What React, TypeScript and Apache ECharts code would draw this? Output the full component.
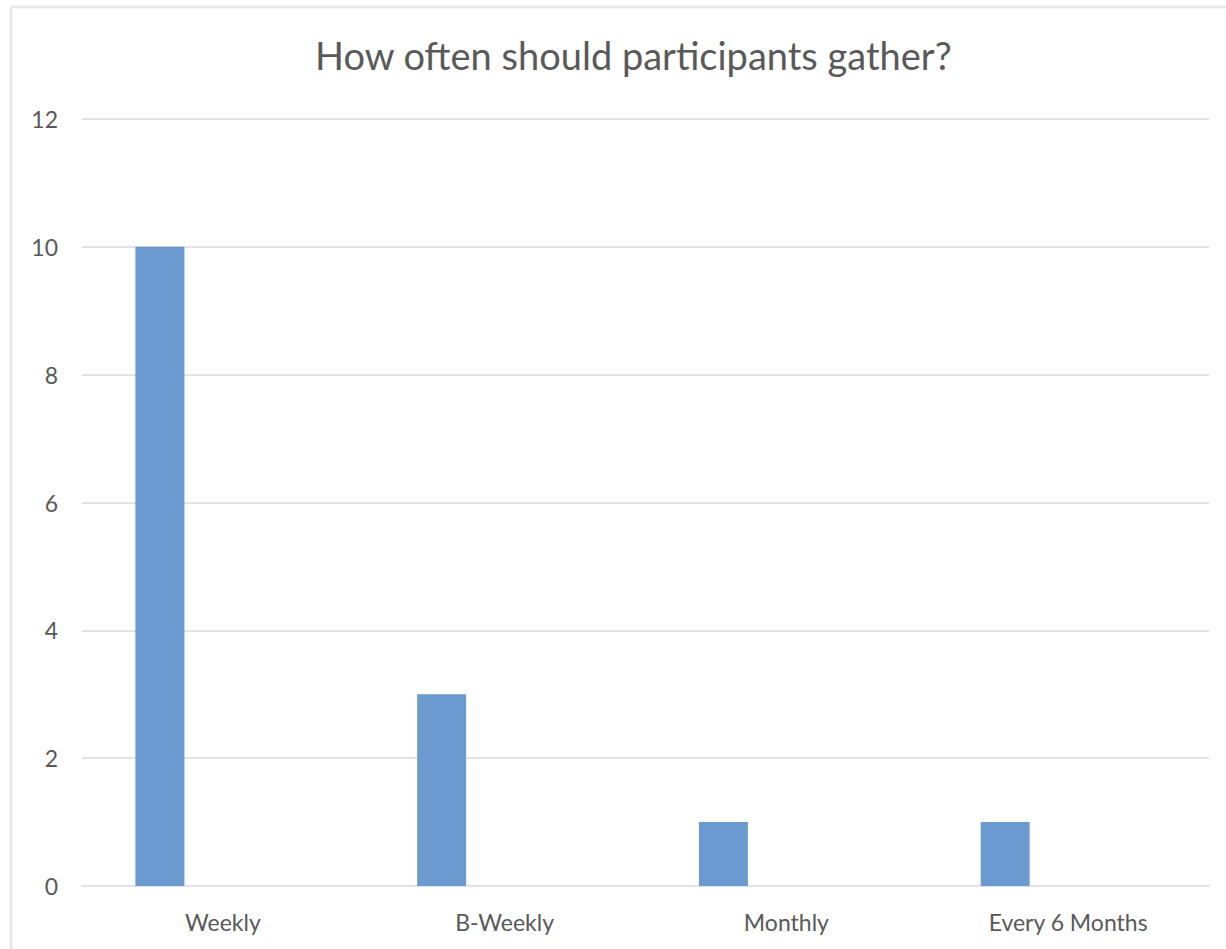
import React, { useEffect, useRef } from "react";
import * as echarts from "echarts";

// Survey answers: how often participants would like to meet
const categories = ["Weekly", "B-Weekly", "Monthly", "Every 6 Months"];
const responses = [10, 3, 1, 1];
// Empty companion series keeps the bars in the left half of each slot
const placeholder = [null, null, null, null];
const yTicks = { min: 0, max: 12, interval: 2 };

const TEXT = "#595959";
const GRID = "#e3e3e3";
const BAR = "#6A9ACF";
const FONT = "Lato, 'Noto Sans', sans-serif";

export default function App() {
  const ref = useRef<HTMLDivElement>(null);

  useEffect(() => {
    if (!ref.current) return;
    const chart = echarts.init(ref.current, undefined, { renderer: "svg" });
    chart.setOption({
      animation: false,
      backgroundColor: "#ffffff",
      title: {
        text: "How often should participants gather?",
        left: 310,
        top: 31,
        textStyle: { color: TEXT, fontFamily: FONT, fontSize: 38, fontWeight: "normal" },
      },
      graphic: [
        { type: "line", shape: { x1: 11, y1: 7, x2: 1226, y2: 7 }, style: { stroke: "#e8e8e8", lineWidth: 3 } },
        { type: "line", shape: { x1: 11, y1: 7, x2: 11, y2: 949 }, style: { stroke: "#e8e8e8", lineWidth: 3 } },
      ],
      grid: { left: 82, right: 17, top: 119, bottom: 63 },
      xAxis: {
        type: "category",
        data: categories,
        axisLine: { show: true, lineStyle: { color: GRID, width: 2 } },
        axisTick: { show: false },
        axisLabel: { color: TEXT, fontFamily: FONT, fontSize: 23, margin: 24 },
      },
      yAxis: {
        type: "value",
        min: yTicks.min,
        max: yTicks.max,
        interval: yTicks.interval,
        axisLine: { show: false },
        axisTick: { show: false },
        splitLine: { lineStyle: { color: GRID, width: 2 } },
        axisLabel: { color: TEXT, fontFamily: FONT, fontSize: 23, margin: 24 },
      },
      series: [
        {
          type: "bar",
          data: responses,
          barWidth: 49,
          barGap: "157%",
          itemStyle: { color: BAR },
        },
        {
          type: "bar",
          data: placeholder,
          barWidth: 49,
          itemStyle: { color: "#ED7D31" },
        },
      ],
    });
    return () => chart.dispose();
  }, []);

  return (
    <div
      ref={ref}
      style={{ position: "absolute", left: 0, top: 0, width: 1226, height: 949 }}
    />
  );
}
